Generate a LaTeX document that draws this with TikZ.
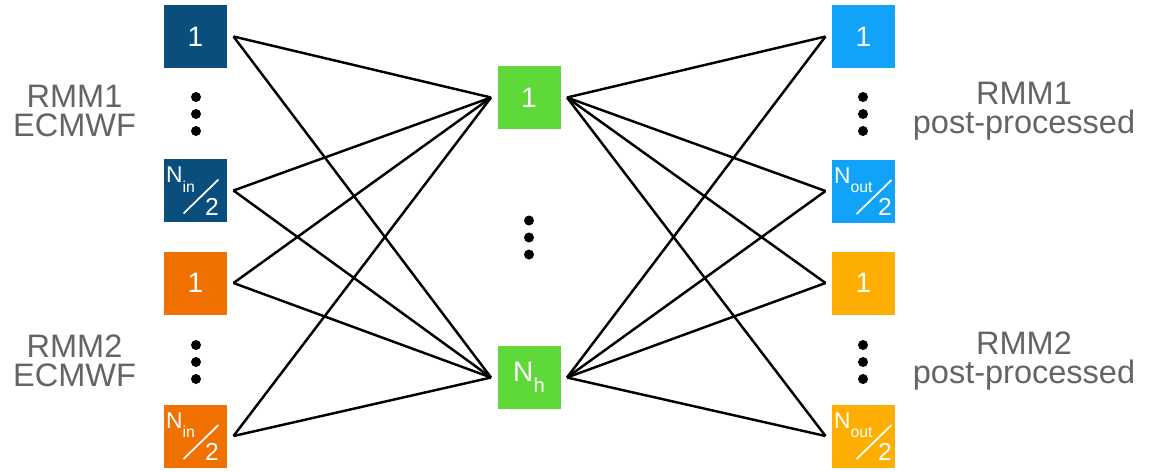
\documentclass[tikz,border=0pt]{standalone}
\usepackage{fontspec}
\setmainfont{Liberation Sans}
\definecolor{bleufonce}{RGB}{10,78,126}
\definecolor{orange}{RGB}{240,112,0}
\definecolor{bleuclair}{RGB}{16,163,247}
\definecolor{jaune}{RGB}{254,174,0}
\definecolor{vert}{RGB}{95,217,57}
\definecolor{gris}{RGB}{100,100,100}
\begin{document}
\begin{tikzpicture}[x=0.02cm, y=-0.02cm]
	\tikzset{boite/.style={rectangle, minimum size=1.26cm, inner sep=0pt, outer sep=0.13cm, text=white, font=\fontsize{16}{16}\selectfont},
	morceau/.style={white, inner sep=0pt, outer sep=0pt, minimum size=0pt, anchor=base west},
	moitie/.style 2 args={boite, path picture={
		\node[morceau, font=\fontsize{13}{13}\selectfont] at ([shift={(-0.59cm,0.16cm)}]path picture bounding box.center) {N\raisebox{-5.5pt}{\fontsize{9}{9}\selectfont #1}};
		\draw[white, line width=1pt] ([shift={(-0.24cm+#2,-0.46cm)}]path picture bounding box.center) -- ([shift={(0.46cm+#2,0.22cm)}]path picture bounding box.center);
		\node[morceau, font=\fontsize{14}{14}\selectfont] at ([shift={(0.19cm+#2,-0.49cm)}]path picture bounding box.center) {2};
	}},
	trait/.style={line width=1.4pt},
	etiquette/.style={text=gris, align=center, font=\fontsize{18.5}{16.3}\selectfont}};

	\useasboundingbox (0, 0) rectangle (1151, 471);

	% entrees
	\node[boite, fill=bleufonce] (ent1) at (195.5, 36.5) {1};
	\node[moitie={in}{0cm}, fill=bleufonce] (ent2) at (195.5, 190.5) {};
	\node[boite, fill=orange] (ent3) at (195.5, 283) {1};
	\node[moitie={in}{0cm}, fill=orange] (ent4) at (195.5, 436) {};

	% couche cachee
	\node[boite, fill=vert] (cach1) at (529, 97.5) {1};
	\node[boite, fill=vert] (cach2) at (529, 377.5) {N\raisebox{-6.5pt}{\fontsize{11.5}{11.5}\selectfont h}};

	% sorties
	\node[boite, fill=bleuclair] (sort1) at (863.5, 36.5) {1};
	\node[moitie={out}{0.1cm}, fill=bleuclair] (sort2) at (863.5, 191) {};
	\node[boite, fill=jaune] (sort3) at (863.5, 283) {1};
	\node[moitie={out}{0.1cm}, fill=jaune] (sort4) at (863.5, 436) {};

	\foreach \x/\y in {196/114, 196/362, 529/237.5, 863/114, 863/362}{
		\foreach \d in {-17, 0, 17}
			\fill (\x, \y+\d) circle (0.1cm);
	}

	\node[etiquette] (lab1) at (74.5, 111) {RMM1\\ECMWF};
	\node[etiquette] (lab2) at (74.5, 361) {RMM2\\ECMWF};
	\node[etiquette] (lab3) at (1024, 111) {RMM1\\post-processed};
	\node[etiquette] (lab4) at (1024, 361) {RMM2\\post-processed};

	\foreach \c in {cach1, cach2}{
		\foreach \e in {ent1, ent2, ent3, ent4}
			\draw[trait] (\e.east) -- (\c.west);
		\foreach \s in {sort1, sort2, sort3, sort4}
			\draw[trait] (\c.east) -- (\s.west);
	}

\end{tikzpicture}
\end{document}
